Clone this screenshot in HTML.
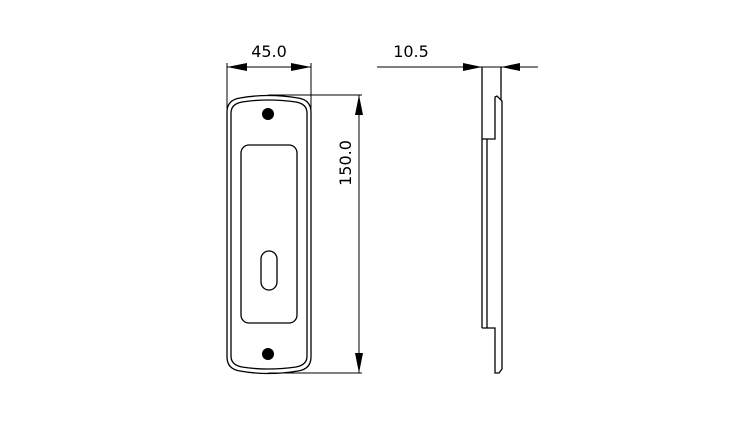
<!DOCTYPE html>
<html><head><style>body{margin:0;background:#fff}svg{display:block}</style></head><body>
<svg width="752" height="423" viewBox="0 0 752 423" xmlns="http://www.w3.org/2000/svg" fill="none" stroke="#000" stroke-width="1.3">
<path d="M227,112 Q227,100 240,98 Q268,93 298,98 Q311,100 311,112 L311,357 Q311,369 298,371 Q268,376 240,371 Q227,369 227,357 Z"/>
<path d="M231,113 Q231,104 242,102 Q268,98 296,102 Q307,104 307,113 L307,356 Q307,365 296,367 Q268,371 242,367 Q231,365 231,356 Z"/>
<rect x="241" y="145" width="56" height="178" rx="8"/>
<rect x="261" y="251" width="16" height="39" rx="8"/>
<circle cx="268" cy="114" r="6" fill="#000" stroke="none"/>
<circle cx="268" cy="354" r="6" fill="#000" stroke="none"/>
<line x1="227" y1="63" x2="227" y2="110" stroke-width="1"/>
<line x1="311" y1="63" x2="311" y2="110" stroke-width="1"/>
<line x1="227" y1="67" x2="311" y2="67" stroke-width="1"/>
<path d="M227,67 L247,63 L247,71 Z M311,67 L291,63 L291,71 Z" fill="#000" stroke="none"/>
<text x="269" y="57" font-family="DejaVu Sans, sans-serif" font-size="16" text-anchor="middle" fill="#000" stroke="none">45.0</text>
<line x1="268" y1="95" x2="362" y2="95" stroke-width="1"/>
<line x1="268" y1="373" x2="362" y2="373" stroke-width="1"/>
<line x1="359" y1="95" x2="359" y2="373" stroke-width="1"/>
<path d="M359,95 L355,115 L363,115 Z M359,373 L355,353 L363,353 Z" fill="#000" stroke="none"/>
<text transform="translate(351,163) rotate(-90)" font-family="DejaVu Sans, sans-serif" font-size="16" text-anchor="middle" fill="#000" stroke="none">150.0</text>
<line x1="377" y1="67" x2="538" y2="67" stroke-width="1"/>
<path d="M482,67 L463,63 L463,71 Z M501,67 L520,63 L520,71 Z" fill="#000" stroke="none"/>
<text x="411" y="57" font-family="DejaVu Sans, sans-serif" font-size="16" text-anchor="middle" fill="#000" stroke="none">10.5</text>
<line x1="482" y1="67" x2="482" y2="328"/>
<line x1="501" y1="67" x2="501" y2="100"/>
<path d="M482,139 L495,139 L495,97 L497,96 L502,101 L502,369 L499,373 L495,373 L495,328 L482,328"/>
<line x1="487" y1="139" x2="487" y2="328"/>
</svg>
</body></html>
